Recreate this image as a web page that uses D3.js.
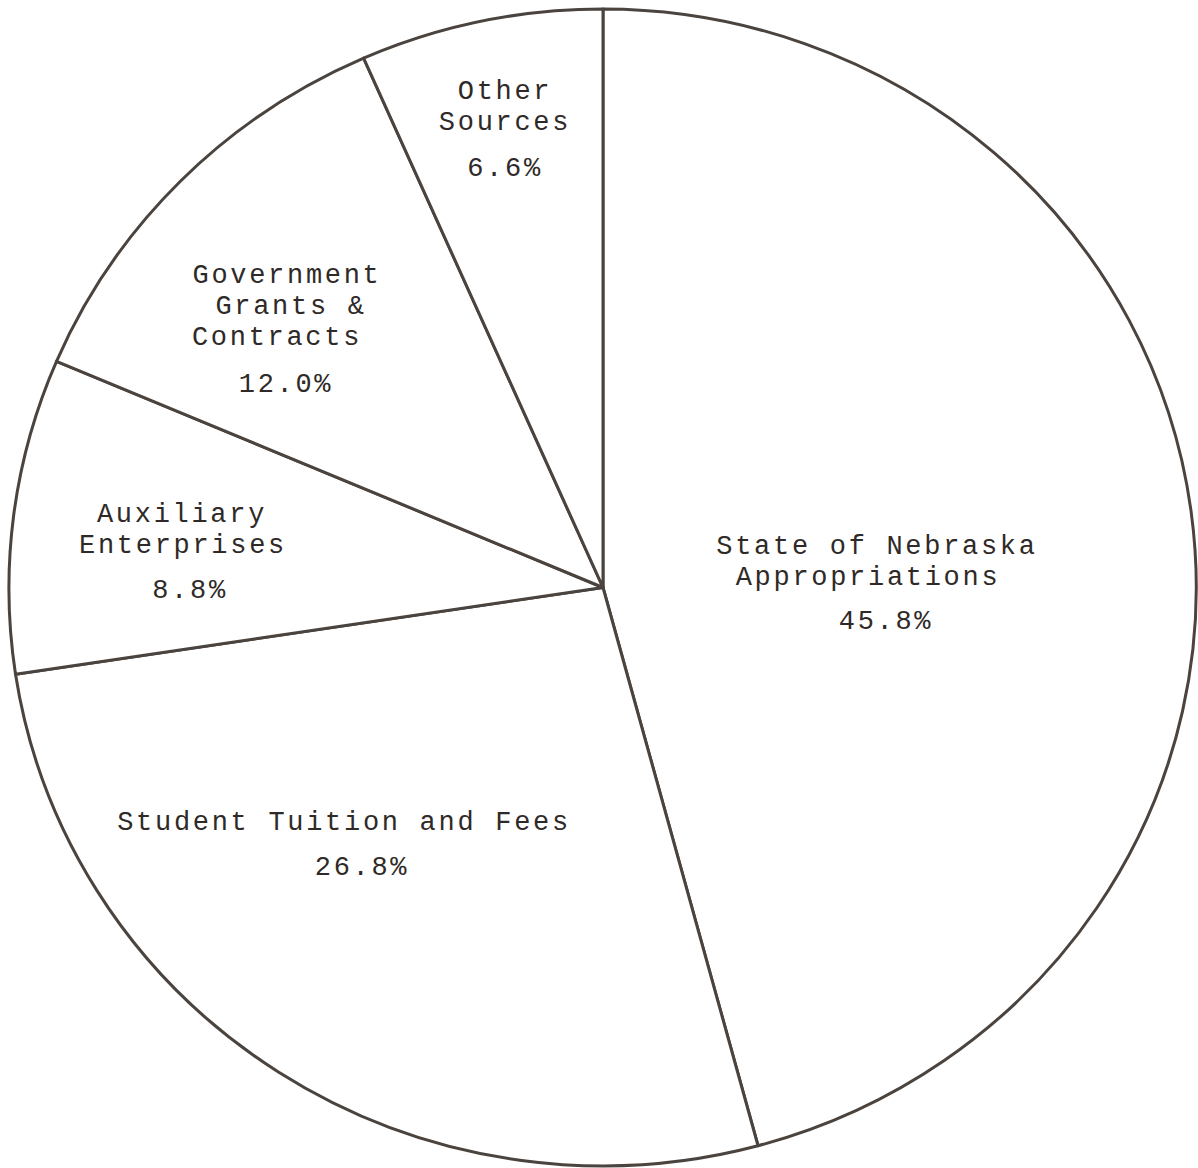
<!DOCTYPE html>
<html>
<head>
<meta charset="utf-8">
<script src="https://cdn.jsdelivr.net/npm/d3@7"></script>
<style>
  html, body { margin: 0; padding: 0; background: #ffffff; }
  svg { display: block; }
</style>
</head>
<body>
<svg id="chart" width="1198" height="1168"></svg>
<script>
// ---- data ----
const categories = [
  "State of Nebraska Appropriations",
  "Student Tuition and Fees",
  "Auxiliary Enterprises",
  "Government Grants & Contracts",
  "Other Sources"
];
const values = [45.8, 26.8, 8.8, 12.0, 6.6];
const labelLines = [
  ["State of Nebraska", "Appropriations"],
  ["Student Tuition and Fees"],
  ["Auxiliary", "Enterprises"],
  ["Government", "Grants &", "Contracts"],
  ["Other", "Sources"]
];
const valueLabels = ["45.8%", "26.8%", "8.8%", "12.0%", "6.6%"];

// ---- layout (positions relative to pie centre) ----
const W = 1198, H = 1168;
const cx = 603, cy = 587.5, rx = 594, ry = 578.5;
// per-slice: line centre x offsets, first baseline y offset, value label x / y offset
const labelLayout = [
  { xs: [274, 265], y0: -34, vx: 283, vy: 41 },
  { xs: [-259],     y0: 242, vx: -241, vy: 287 },
  { xs: [-421, -420], y0: -66, vx: -413, vy: 10 },
  { xs: [-316, -312, -326], y0: -305, vx: -317, vy: -196 },
  { xs: [-98, -98], y0: -489, vx: -98, vy: -412 }
];
const lineGap = 31;

const ink = "#4a433e";
const textInk = "#2f2a27";
const font = "'Courier New', 'Liberation Mono', 'DejaVu Sans Mono', monospace";

const svg = d3.select("#chart");
svg.append("rect").attr("width", W).attr("height", H).attr("fill", "#ffffff");

const pie = d3.pie().sort(null).value(d => d)(values);
const arc = d3.arc().innerRadius(0).outerRadius(1);

const g = svg.append("g")
  .attr("transform", `translate(${cx},${cy}) scale(${rx},${ry})`);

g.selectAll("path.slice")
  .data(pie)
  .join("path")
  .attr("class", "slice")
  .attr("d", arc)
  .attr("fill", "#ffffff")
  .attr("stroke", ink)
  .attr("stroke-width", 3)
  .attr("stroke-linejoin", "round")
  .attr("vector-effect", "non-scaling-stroke");

const labels = svg.append("g")
  .attr("transform", `translate(${cx},${cy})`)
  .attr("font-family", font)
  .attr("font-size", 27)
  .attr("letter-spacing", 2.7)
  .attr("fill", textInk)
  .attr("text-anchor", "middle");

pie.forEach((p, i) => {
  const L = labelLayout[i];
  labelLines[i].forEach((line, j) => {
    labels.append("text")
      .attr("x", L.xs[j])
      .attr("y", L.y0 + j * lineGap)
      .text(line);
  });
  labels.append("text")
    .attr("x", L.vx)
    .attr("y", L.vy)
    .text(valueLabels[i]);
});
</script>
</body>
</html>
